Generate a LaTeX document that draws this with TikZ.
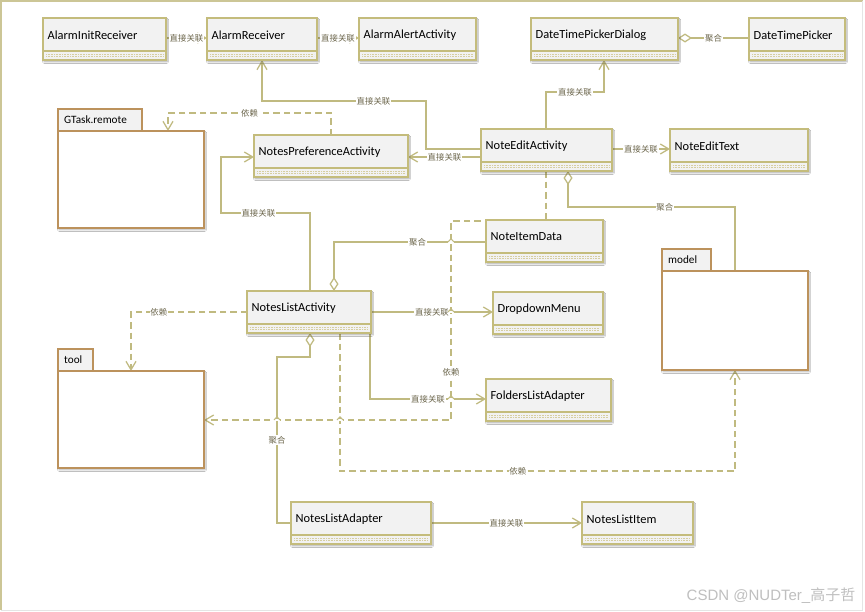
\documentclass[tikz,border=0pt]{standalone}
\usepackage{fontspec}
\setmainfont{Carlito}
\newfontfamily\cjk{Noto Sans CJK SC}
\newfontfamily\wmfont{Liberation Sans}
\usetikzlibrary{arrows.meta,shadows.blur,calc,backgrounds}
\definecolor{boxc}{RGB}{196,188,124}
\definecolor{boxfill}{RGB}{242,242,242}
\definecolor{dotc}{RGB}{214,206,160}
\definecolor{pkgc}{RGB}{188,146,92}
\definecolor{lnc}{RGB}{192,186,128}
\definecolor{lblc}{RGB}{108,102,76}
\definecolor{framec}{RGB}{204,198,150}
\tikzset{
  clsbox/.style={draw=boxc, fill=boxfill, line width=1.6pt, minimum height=42pt,
    inner sep=0pt, outer sep=0pt,
    blur shadow={shadow blur steps=6, shadow xshift=1pt, shadow yshift=-1.8pt,
      shadow blur radius=1.6pt, shadow opacity=35}},
  clsline/.style={draw=boxc, line width=1.2pt},
  clsdots/.style={draw=dotc, line width=0.7pt, dash pattern=on 0.8pt off 0.8pt},
  clstext/.style={inner sep=1pt, text=black, font=\fontsize{12.4}{13}\selectfont},
  pkgtab/.style={draw=pkgc, fill=boxfill, line width=1.5pt, minimum height=22pt,
    inner sep=0pt, outer sep=0pt},
  pkgbody/.style={draw=pkgc, fill=white, line width=1.5pt, inner sep=0pt, outer sep=0pt,
    blur shadow={shadow blur steps=6, shadow xshift=1pt, shadow yshift=-1.8pt,
      shadow blur radius=1.6pt, shadow opacity=30}},
  pkgtext/.style={inner sep=1pt, text=black, font=\fontsize{11.2}{12}\selectfont},
  assoc/.style={draw=lnc, line width=1.25pt, -{Straight Barb[length=8.5pt,width=10pt]}},
  dep/.style={assoc, dash pattern=on 6.5pt off 4pt},
  agg/.style={draw=lnc, line width=1.25pt, {Diamond[length=14pt,width=9pt,fill=white]}-},
  lbl/.style={fill=white, inner sep=0.8pt, text=lblc, font=\cjk\fontsize{8.4}{9}\selectfont},
}
\newcommand\umlcls[5]{%
  \node[clsbox, minimum width=#4pt, anchor=north west] (#1) at (#2,#3) {};
  \draw[clsline] ([yshift=-33pt]#1.north west) -- ([yshift=-33pt]#1.north east);
  \draw[clsdots] ([xshift=3pt,yshift=-36.3pt]#1.north west) -- ([xshift=-3pt,yshift=-36.3pt]#1.north east);
  \draw[clsdots] ([xshift=3pt,yshift=-38.8pt]#1.north west) -- ([xshift=-3pt,yshift=-38.8pt]#1.north east);
  \node[clstext, anchor=west] (#1-t) at ([xshift=3.5pt,yshift=-16.8pt]#1.north west) {#5};
}
\newcommand\umlpkg[7]{%
  \node[pkgtab, minimum width=#4pt, anchor=north west] (#1-tab) at (#2,#3) {};
  \node[pkgbody, minimum width=#5pt, minimum height=#6pt, anchor=north west] (#1) at (#1-tab.south west) {};
  \node[pkgtext, anchor=west] (#1-t) at ([xshift=5pt]#1-tab.west) {#7};
}
\newcommand\hop[1]{%
  \fill[white] ($(#1)+(-3.2,1.2)$) rectangle ($(#1)+(3.2,-0.8)$);
  \draw[lnc, line width=1pt] ($(#1)+(-3,0)$) -- ($(#1)+(0,-3.2)$) -- ($(#1)+(3,0)$);
}
\begin{document}
\begin{tikzpicture}[x=1pt,y=-1pt]
\useasboundingbox (0,0) rectangle (865,611);

% classes
\umlcls{aInit}{43}{18}{123}{AlarmInitReceiver}
\umlcls{aRecv}{207}{18}{110}{AlarmReceiver}
\umlcls{aAlert}{359}{18}{117}{AlarmAlertActivity}
\umlcls{dtpd}{531}{18}{147}{DateTimePickerDialog}
\umlcls{dtp}{749}{18}{96}{DateTimePicker}
\umlcls{nea}{481}{129}{131}{NoteEditActivity}
\umlcls{net}{670}{129}{138}{NoteEditText}
\umlcls{npa}{254}{135}{154}{NotesPreferenceActivity}
\umlcls{nid}{486}{220}{117}{NoteItemData}
\umlcls{nla}{247}{291}{124}{NotesListActivity}
\umlcls{ddm}{493}{292}{110}{DropdownMenu}
\umlcls{fla}{486}{379}{125}{FoldersListAdapter}
\umlcls{nlad}{291}{502}{140}{NotesListAdapter}
\umlcls{nli}{582}{502}{111}{NotesListItem}

% packages
\umlpkg{gtask}{58}{109}{84}{146}{97}{GTask.remote}
\umlpkg{tool}{58}{349}{35}{146}{97}{tool}
\umlpkg{model}{662}{249}{49}{146}{99}{model}

\begin{pgfonlayer}{background}
\fill[white] (0,0) rectangle (865,611);
% frame
\draw[framec, line width=1.4pt] (1,610) -- (1,1) -- (862.5,1);
\draw[black!10, line width=0.8pt] (862.5,1) -- (862.5,610) -- (1,610);
\draw[assoc] (aInit.east |- 0,38) -- node[lbl]{直接关联} (aRecv.west |- 0,38);
\draw[assoc] (aRecv.east |- 0,38) -- node[lbl]{直接关联} (aAlert.west |- 0,38);
\draw[agg] (dtpd.east |- 0,38) -- node[lbl]{聚合} (dtp.west |- 0,38);
\draw[assoc] (546,0 |- nea.north) -- (546,92) -- node[lbl]{直接关联} (604,92) -- (604,0 |- dtpd.south);
\draw[assoc] (nea.west |- 0,149) -- (426,149) -- (426,101) -- node[lbl,pos=0.32]{直接关联} (262,101) -- (262,0 |- aRecv.south);
\draw[assoc] (nea.west |- 0,157) -- node[lbl]{直接关联} (npa.east |- 0,157);
\draw[assoc] (nea.east |- 0,149) -- node[lbl]{直接关联} (net.west |- 0,149);
\draw[dep] (331,0 |- npa.north) -- (331,113) -- node[lbl]{依赖} (168,113) -- (168,0 |- gtask.north);
\draw[assoc] (310,0 |- nla.north) -- (310,213) -- node[lbl,pos=0.58]{直接关联} (221,213) -- (221,157) -- (npa.west |- 0,157);
\draw[agg] (334,0 |- nla.north) -- (334,242) -- node[lbl,pos=0.55]{聚合} (nid.west |- 0,242);
\draw[dep] (546,0 |- nea.south) -- (546,221) -- (451,221) -- node[lbl,pos=0.76]{依赖} (451,420) -- (tool.east |- 0,420);
\draw[agg] (568,0 |- nea.south) -- (568,207) -- node[lbl,pos=0.58]{聚合} (735,207) -- (735,0 |- model.north);
\draw[dep] (nla.west |- 0,312) -- node[lbl,pos=0.76]{依赖} (131,312) -- (131,0 |- tool.north);
\draw[assoc] (nla.east |- 0,312) -- node[lbl]{直接关联} (ddm.west |- 0,312);
\draw[assoc] (370,0 |- nla.south) -- (370,399) -- node[lbl]{直接关联} (fla.west |- 0,399);
\draw[agg] (310,0 |- nla.south) -- (310,357) -- (277,357) -- node[lbl]{聚合} (277,523) -- (nlad.west |- 0,523);
\draw[dep] (340,0 |- nla.south) -- (340,471) -- node[lbl,pos=0.45]{依赖} (735,471) -- (735,0 |- model.south);
\draw[assoc] (nlad.east |- 0,523) -- node[lbl]{直接关联} (nli.west |- 0,523);
\end{pgfonlayer}

% line hops
\hop{451,242}
\hop{451,312}
\hop{451,399}
\hop{277,420}
\hop{340,420}

% watermark
\node[text=black!25, inner sep=0pt, font=\wmfont\fontsize{15}{15}\selectfont] (wm) at (771,596) {CSDN @NUDTer\_{\cjk 高子哲}};
\end{tikzpicture}
\end{document}
